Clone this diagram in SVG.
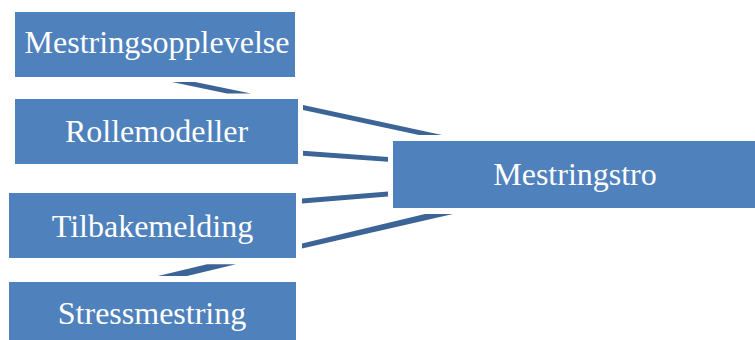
<svg xmlns="http://www.w3.org/2000/svg" width="755" height="340" viewBox="0 0 755 340">
<style>
.box{fill:#4F81BD;}
.lbl{font-family:"Liberation Serif","Times New Roman",serif;font-size:32px;fill:#FFFFFF;text-anchor:middle;}
.con{fill:#3C6496;stroke:none;}
</style>
<rect width="755" height="340" fill="#FFFFFF"/>
<g id="connectors">
<polygon class="con" points="172,82 195,82 251,93.5 227,93.5"/>
<polygon class="con" points="303,105 442,135 419,135 303,110"/>
<polygon class="con" points="303,150.7 388,157 388,161.7 303,155.7"/>
<polygon class="con" points="302,198.5 388,191.5 388,196.5 302,203.5"/>
<polygon class="con" points="302,243.5 425,214 453,214 302,248.5"/>
<polygon class="con" points="158,276 207,264.3 236,264.3 187,276"/>
</g>
<g id="node-mestringsopplevelse">
<rect class="box" x="15" y="12" width="280" height="65"/>
<text class="lbl" x="157" y="53">Mestringsopplevelse</text>
</g>
<g id="node-rollemodeller">
<rect class="box" x="15" y="99" width="283" height="65"/>
<text class="lbl" x="156.5" y="142">Rollemodeller</text>
</g>
<g id="node-tilbakemelding">
<rect class="box" x="9" y="193" width="287" height="65"/>
<text class="lbl" x="152.5" y="237">Tilbakemelding</text>
</g>
<g id="node-stressmestring">
<rect class="box" x="9" y="282" width="287" height="65"/>
<text class="lbl" x="152" y="324">Stressmestring</text>
</g>
<g id="node-mestringstro">
<rect class="box" x="393" y="141" width="365" height="67"/>
<text class="lbl" x="575" y="185">Mestringstro</text>
</g>
</svg>
